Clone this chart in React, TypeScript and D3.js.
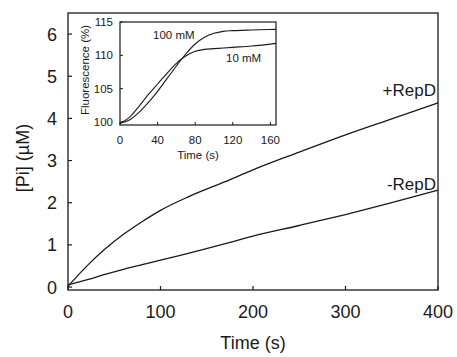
import { useEffect, useRef } from "react";
import * as d3 from "d3";

// main panel: [Pi] vs time
const mainTime = [0, 10, 20, 40, 60, 80, 100, 130, 170, 200, 250, 300, 350, 400];
const plusRepD = [0.02, 0.26, 0.49, 0.9, 1.25, 1.55, 1.82, 2.14, 2.5, 2.78, 3.2, 3.61, 3.99, 4.37];
const minusRepD = [0.05, 0.11, 0.17, 0.3, 0.42, 0.53, 0.64, 0.8, 1.03, 1.21, 1.46, 1.72, 2.0, 2.3];
const mainXTicks = [0, 100, 200, 300, 400];
const mainYTicks = [0, 1, 2, 3, 4, 5, 6];

// inset: fluorescence vs time
const insetTime = [0, 10, 20, 30, 40, 50, 60, 70, 80, 90, 100, 110, 120, 140, 166];
const mM100 = [99.8, 100.3, 101.4, 102.9, 104.6, 106.5, 108.4, 110.2, 111.7, 112.7, 113.3, 113.6, 113.7, 113.8, 113.9];
const mM10 = [99.8, 100.7, 102.3, 104.1, 105.7, 107.3, 108.8, 109.9, 110.6, 110.9, 111.0, 111.1, 111.2, 111.4, 111.8];
const insetXTicks = [0, 40, 80, 120, 160];
const insetYTicks = [100, 105, 110, 115];

const INK = "#1a1a1a";
const FONT = "'Liberation Sans', Arial, sans-serif";

export default function App() {
  const svgRef = useRef<SVGSVGElement>(null);

  useEffect(() => {
    if (!svgRef.current) return;
    const svg = d3.select(svgRef.current);
    svg.selectAll("*").remove();

    // Main panel
    const x = d3.scaleLinear().domain([0, 400]).range([68, 438]);
    const y = d3.scaleLinear().domain([-0.07, 6.5]).range([290, 13]);

    const main = svg.append("g");
    main.append("rect")
      .attr("x", 68).attr("y", 13).attr("width", 370).attr("height", 277)
      .attr("fill", "none").attr("stroke", INK).attr("stroke-width", 1.3);

    mainXTicks.forEach((t) => {
      main.append("line").attr("x1", x(t)).attr("x2", x(t)).attr("y1", 290).attr("y2", 286)
        .attr("stroke", INK).attr("stroke-width", 1.2);
      main.append("text").attr("x", x(t)).attr("y", 318).attr("text-anchor", "middle")
        .attr("font-size", 18).attr("font-family", FONT).attr("fill", INK).text(t);
    });
    mainYTicks.forEach((v) => {
      main.append("line").attr("x1", 68).attr("x2", 72).attr("y1", y(v)).attr("y2", y(v))
        .attr("stroke", INK).attr("stroke-width", 1.2);
      main.append("text").attr("x", 57).attr("y", y(v) + 6.5).attr("text-anchor", "end")
        .attr("font-size", 18).attr("font-family", FONT).attr("fill", INK).text(v);
    });

    main.append("text").attr("x", 253).attr("y", 349).attr("text-anchor", "middle")
      .attr("font-size", 18).attr("font-family", FONT).attr("fill", INK).text("Time (s)");
    main.append("text").attr("transform", "translate(29,158) rotate(-90)").attr("text-anchor", "middle")
      .attr("font-size", 18).attr("font-family", FONT).attr("fill", INK).text("[Pi] (µM)");

    const mainLine = (vals: number[]) =>
      d3.line<number>().x((_, i) => x(mainTime[i])).y((d) => y(d)).curve(d3.curveMonotoneX)(vals);
    [plusRepD, minusRepD].forEach((vals) => {
      main.append("path").attr("d", mainLine(vals)).attr("fill", "none")
        .attr("stroke", INK).attr("stroke-width", 1.3);
    });
    main.append("text").attr("x", 436).attr("y", 96).attr("text-anchor", "end")
      .attr("font-size", 17).attr("font-family", FONT).attr("fill", INK).text("+RepD");
    main.append("text").attr("x", 436).attr("y", 190).attr("text-anchor", "end")
      .attr("font-size", 17).attr("font-family", FONT).attr("fill", INK).text("-RepD");

    // Inset
    const ix = d3.scaleLinear().domain([0, 166]).range([120, 276]);
    const iy = d3.scaleLinear().domain([99.55, 115]).range([125, 22]);
    const inset = svg.append("g");
    inset.append("rect")
      .attr("x", 120).attr("y", 22).attr("width", 156).attr("height", 103)
      .attr("fill", "white").attr("stroke", INK).attr("stroke-width", 1.2);

    insetXTicks.forEach((t) => {
      inset.append("line").attr("x1", ix(t)).attr("x2", ix(t)).attr("y1", 125).attr("y2", 122)
        .attr("stroke", INK).attr("stroke-width", 1);
      inset.append("text").attr("x", ix(t)).attr("y", 144).attr("text-anchor", "middle")
        .attr("font-size", 11.5).attr("font-family", FONT).attr("fill", INK).text(t);
    });
    insetYTicks.forEach((v) => {
      inset.append("line").attr("x1", 120).attr("x2", 123).attr("y1", iy(v)).attr("y2", iy(v))
        .attr("stroke", INK).attr("stroke-width", 1);
      inset.append("text").attr("x", 113).attr("y", iy(v) + 4).attr("text-anchor", "end")
        .attr("font-size", 11.5).attr("font-family", FONT).attr("fill", INK).text(v);
    });
    inset.append("text").attr("x", 198).attr("y", 159).attr("text-anchor", "middle")
      .attr("font-size", 11.5).attr("font-family", FONT).attr("fill", INK).text("Time (s)");
    inset.append("text").attr("transform", "translate(89,70) rotate(-90)").attr("text-anchor", "middle")
      .attr("font-size", 11.5).attr("font-family", FONT).attr("fill", INK).text("Fluorescence (%)");

    const insetLine = (vals: number[]) =>
      d3.line<number>().x((_, i) => ix(insetTime[i])).y((d) => iy(d)).curve(d3.curveMonotoneX)(vals);
    [mM100, mM10].forEach((vals) => {
      inset.append("path").attr("d", insetLine(vals)).attr("fill", "none")
        .attr("stroke", INK).attr("stroke-width", 1.1);
    });
    inset.append("text").attr("x", 153).attr("y", 39)
      .attr("font-size", 11.5).attr("font-family", FONT).attr("fill", INK).text("100 mM");
    inset.append("text").attr("x", 226).attr("y", 62)
      .attr("font-size", 11.5).attr("font-family", FONT).attr("fill", INK).text("10 mM");
  }, []);

  return (
    <svg ref={svgRef} width={457} height={357}
      style={{ position: "absolute", left: 0, top: 0, background: "white" }} />
  );
}
